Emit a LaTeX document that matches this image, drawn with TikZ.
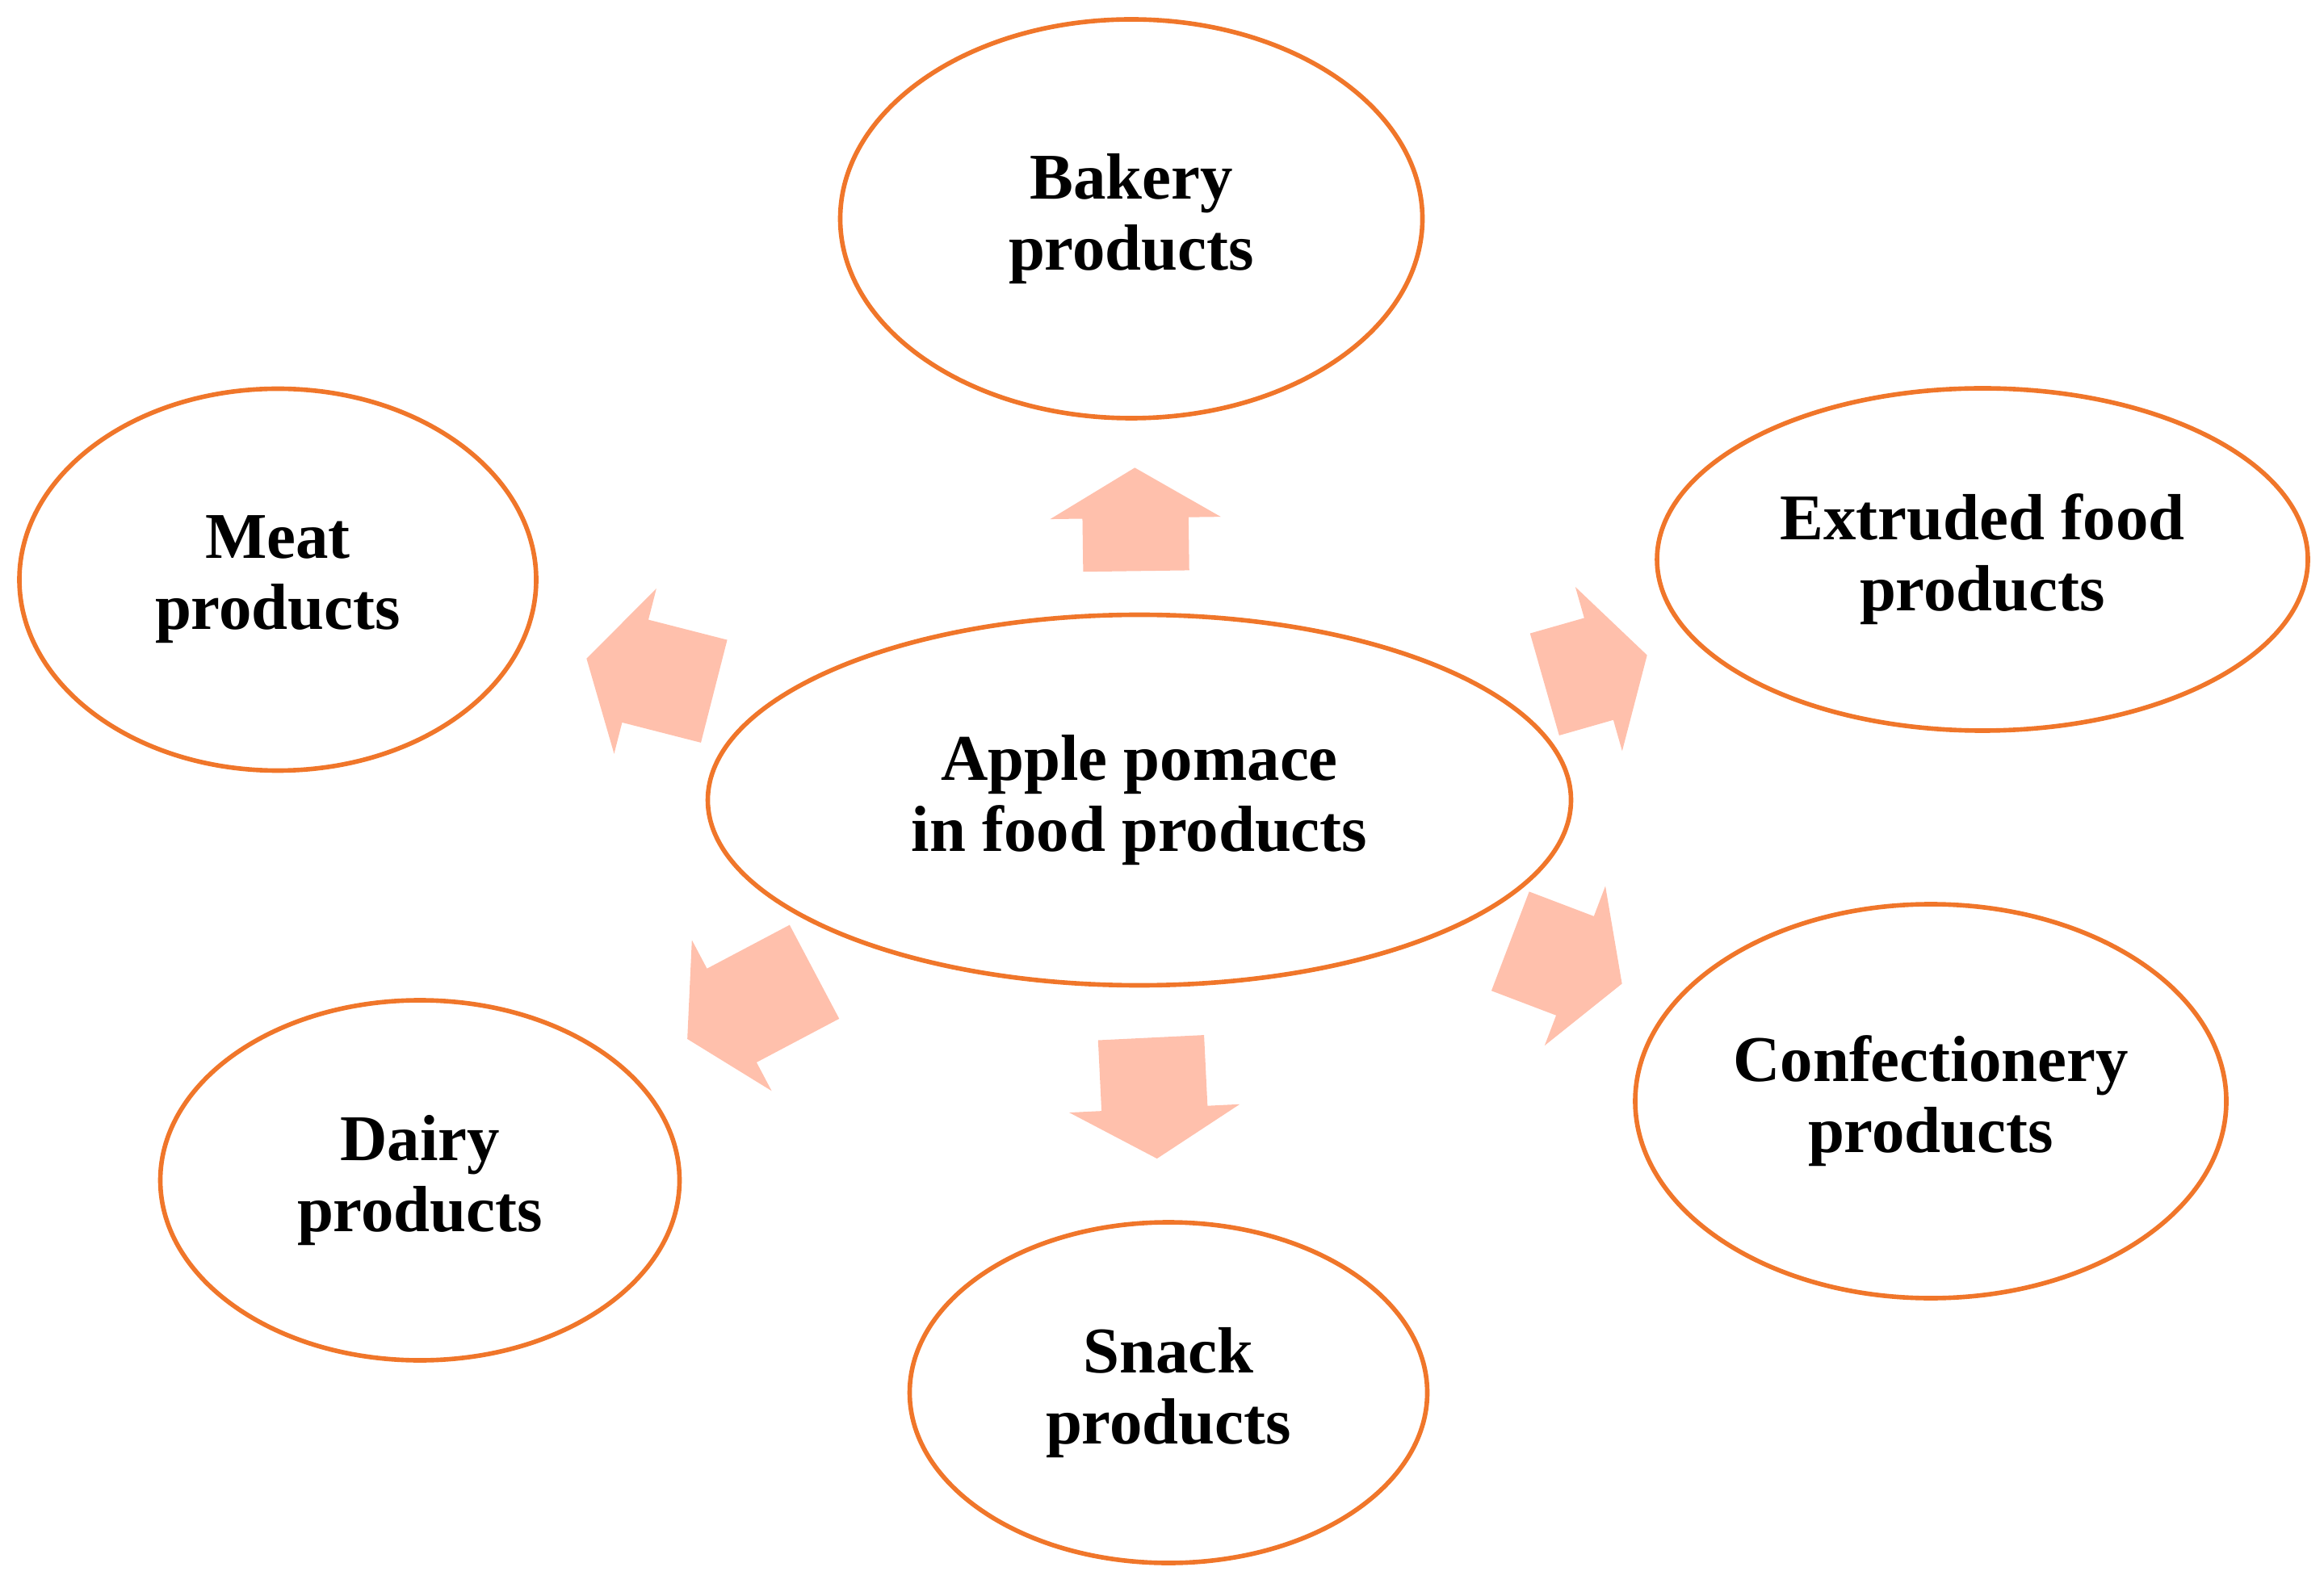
\documentclass[tikz,border=0pt]{standalone}
\usepackage{fontspec}
\setmainfont{Liberation Serif}
\usetikzlibrary{shapes.geometric,shapes.arrows}
\definecolor{potorange}{RGB}{240,118,42}
\definecolor{pushfill}{RGB}{255,192,172}
\tikzset{food node/.style={ellipse,draw=potorange,line width=1.6pt,fill=white,inner sep=0pt,align=center,font=\fontsize{23}{25}\selectfont\bfseries},
	push arrow/.style={single arrow,fill=pushfill,draw=none,inner xsep=0pt,inner ysep=0.65cm,minimum width=2.1cm,single arrow head extend=0.4cm,single arrow tip angle=119,anchor=tail,sloped,allow upside down},}

\begin{document}
\begin{tikzpicture}
	\useasboundingbox (0,0) rectangle (28.78,-19.67);
	\node[food node, minimum width=10.69cm, minimum height=4.59cm] (apple) at (14.11,-9.91) {Apple pomace\\in food products};
	\node[food node, minimum width=7.21cm, minimum height=4.94cm] (bakery) at (14.01,-2.71) {Bakery\\products};
	\node[food node, minimum width=6.40cm, minimum height=4.73cm] (meat) at (3.44,-7.18) {Meat\\products};
	\node[food node, minimum width=8.06cm, minimum height=4.24cm] (extruded) at (24.55,-6.93) {Extruded food\\products};
	\node[food node, minimum width=7.32cm, minimum height=4.88cm] (confect) at (23.91,-13.64) {Confectionery\\products};
	\node[food node, minimum width=6.43cm, minimum height=4.46cm] (dairy) at (5.20,-14.62) {Dairy\\products};
	\node[food node, minimum width=6.41cm, minimum height=4.22cm] (snack) at (14.47,-17.25) {Snack\\products};

	% arrows pointing out of the centre
	\path (apple.center) -- node[push arrow, pos=0.393, minimum height=1.28cm] (toBakery) {} (bakery.center);
	\path (apple.center) -- node[push arrow, pos=0.493, minimum height=1.63cm] (toMeat) {} (meat.center);
	\path (apple.center) -- node[push arrow, pos=0.480, minimum height=1.32cm] (toExtruded) {} (extruded.center);
	\path (apple.center) -- node[push arrow, pos=0.468, minimum height=1.48cm] (toConfect) {} (confect.center);
	\path (apple.center) -- node[push arrow, pos=0.451, minimum height=1.78cm] (toDairy) {} (dairy.center);
	\path (apple.center) -- node[push arrow, pos=0.400, minimum height=1.50cm] (toSnack) {} (snack.center);
\end{tikzpicture}
\end{document}
